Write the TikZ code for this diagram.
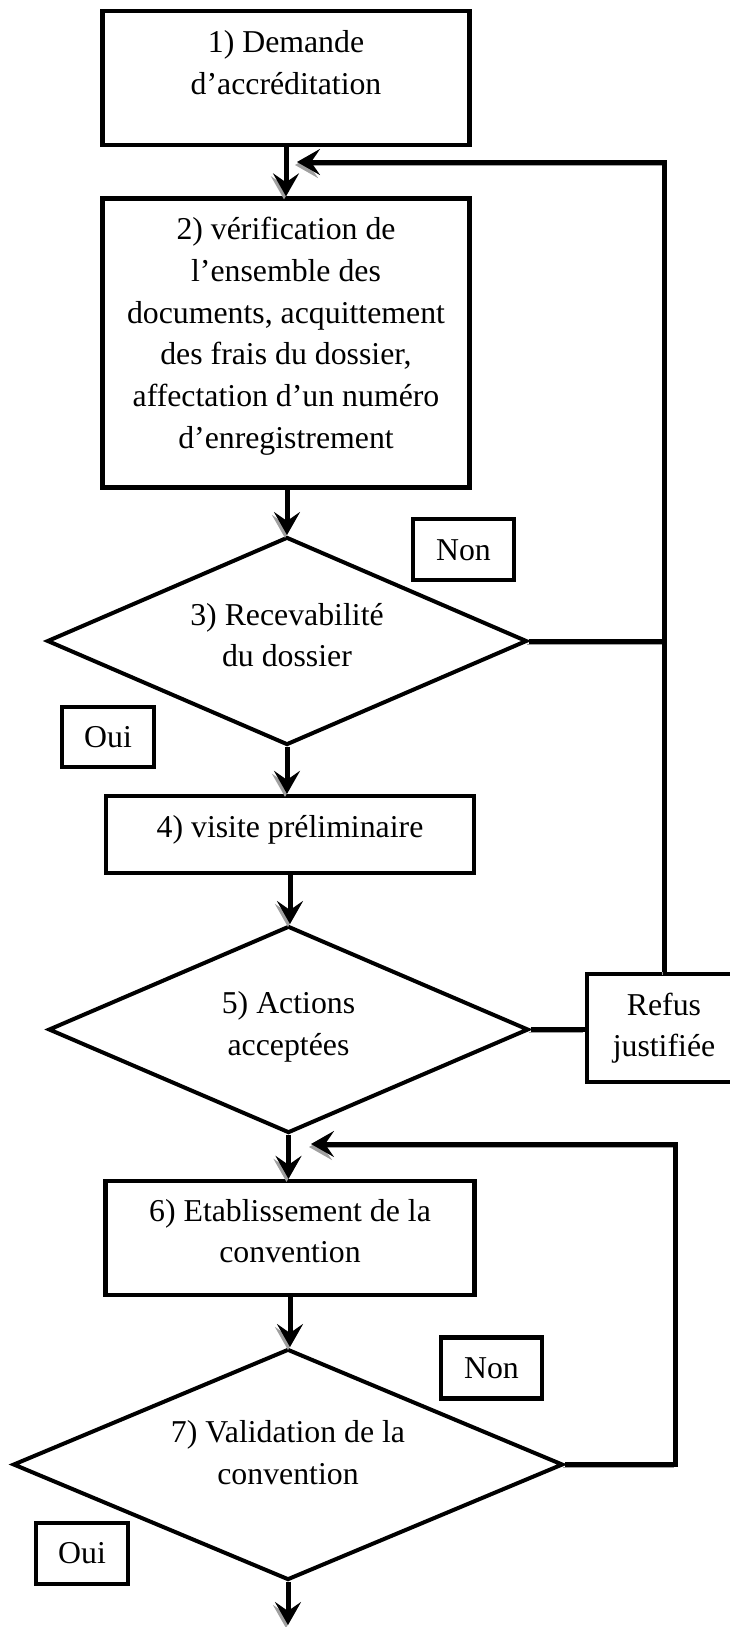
\documentclass[tikz,border=0pt]{standalone}
\usepackage{fontspec}
\setmainfont{Liberation Serif}
\usetikzlibrary{shapes.geometric,arrows.meta,calc}
\definecolor{shadowgray}{HTML}{A0A0A0}
\newcommand\mlines[1]{\begin{tabular}[t]{@{}c@{}}#1\end{tabular}}
\begin{document}
\begin{tikzpicture}[x=1pt,y=-1pt,
  boxn/.style={draw, rectangle, line width=4.3pt, inner sep=0pt},
  dian/.style={draw, diamond, line width=4pt, inner sep=0pt},
  txt/.style={anchor=base, inner sep=0pt, font=\fontsize{31.8}{41.8}\selectfont},
  conn/.style={line width=5pt, line join=miter,
    preaction={draw=shadowgray, transform canvas={shift={(-2pt,-3pt)}}}},
  arr/.style={conn, -{Stealth[length=23pt, width=26pt, inset=9pt]}}
]
\useasboundingbox (0,0) rectangle (730,1627);
\fill[white] (0,0) rectangle (730,1627);

% shapes
\node[boxn, minimum width=367pt, minimum height=134pt] (b1) at (286,78) {};
\node[boxn, minimum width=367pt, minimum height=289pt] (b2) at (286,343) {};
\node[dian, minimum width=480pt, minimum height=208pt] (d3) at (287,641) {};
\node[boxn, minimum width=368pt, minimum height=77pt] (b4) at (290,834.5) {};
\node[dian, minimum width=480pt, minimum height=207pt] (d5) at (288.5,1029.5) {};
\node[boxn, minimum width=154pt, minimum height=108pt] (rf) at (664,1028) {};
\node[boxn, minimum width=369pt, minimum height=114pt] (b6) at (290,1238) {};
\node[dian, minimum width=550pt, minimum height=231pt] (d7) at (288,1464.5) {};
\node[boxn, minimum width=101pt, minimum height=61pt] (n1) at (463.5,549.5) {};
\node[boxn, minimum width=92pt, minimum height=60pt] (o1) at (108,737) {};
\node[boxn, minimum width=101pt, minimum height=61pt] (n2) at (491.5,1368) {};
\node[boxn, minimum width=92pt, minimum height=61pt] (o2) at (82,1553.5) {};

% texts
\node[txt] (b1t) at (286,52.5) {\mlines{1) Demande\\d’accréditation}};
\node[txt] (b2t) at (286,239.5) {\mlines{2) vérification de\\l’ensemble des\\documents, acquittement\\des frais du dossier,\\affectation d’un numéro\\d’enregistrement}};
\node[txt] (d3t) at (287,625) {\mlines{3) Recevabilité\\du dossier}};
\node[txt] (b4t) at (290,837.5) {4) visite préliminaire};
\node[txt] (d5t) at (288.5,1013.5) {\mlines{5) Actions\\acceptées}};
\node[txt] (rft) at (664,1015) {\mlines{Refus\\justifiée}};
\node[txt] (b6t) at (290,1221) {\mlines{6) Etablissement de la\\convention}};
\node[txt] (d7t) at (288,1442.5) {\mlines{7) Validation de la\\convention}};
\node[txt] (n1t) at (463.5,560) {Non};
\node[txt] (o1t) at (108,747) {Oui};
\node[txt] (n2t) at (491.5,1378) {Non};
\node[txt] (o2t) at (82,1563.5) {Oui};

% free ends
\coordinate (fb1end) at (297,162);
\coordinate (fb2corner) at (675,1144);
\coordinate (fb2end) at (311,1144);
\coordinate (endtip) at (290,1625);

% connectors
\draw[arr] (b1.south) -- (b1.south |- b2.north);
\draw[arr] (d3.north |- b2.south) -- (d3.north);
\draw[arr] (d3.south) -- (d3.south |- b4.north);
\draw[arr] (b4.south) -- (b4.south |- d5.north);
\draw[arr] (d5.south) -- (d5.south |- b6.north);
\draw[arr] (b6.south) -- (b6.south |- d7.north);
\draw[arr] (d7.south) -- (d7.south |- endtip);
\draw[conn] (d3.east) -- (d3.east -| rf.north);
\draw[conn] (d5.east) -- (d5.east -| rf.west);
\draw[arr] (rf.north) -- (rf.north |- fb1end) -- (fb1end);
\draw[arr] (d7.east) -| (fb2corner) -- (fb2end);
\end{tikzpicture}
\end{document}
